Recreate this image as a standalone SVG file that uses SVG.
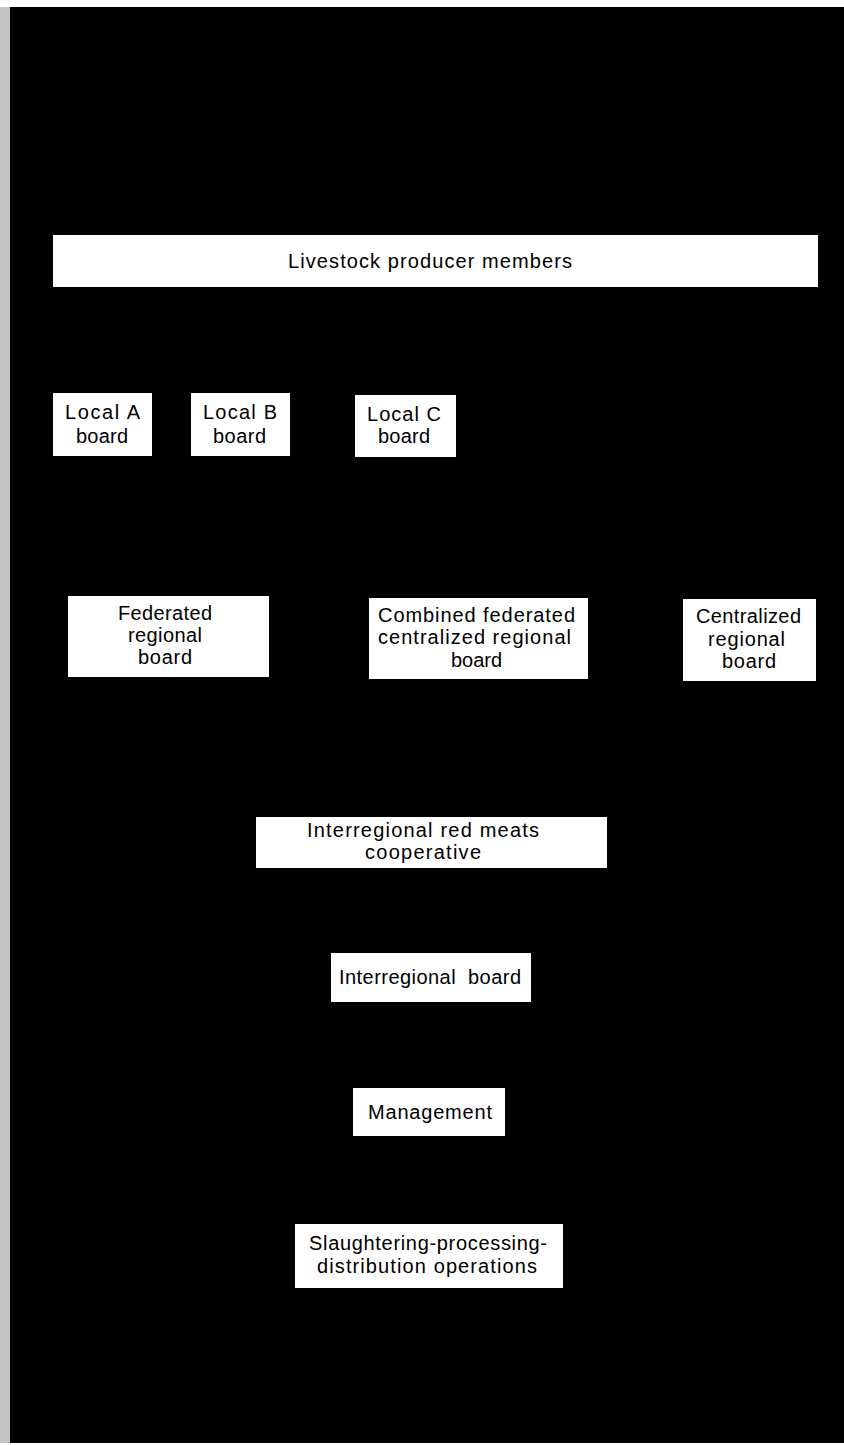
<svg xmlns="http://www.w3.org/2000/svg" width="844" height="1445" viewBox="0 0 844 1445">
<style>
.box{fill:#ffffff;stroke:none}
.lbl{font-family:"Liberation Sans",Arial,Helvetica,sans-serif;font-size:20px;fill:#000000;white-space:pre}
</style>
<rect x="0" y="0" width="844" height="1445" fill="#ffffff"/>
<rect x="0" y="7" width="11" height="1436" fill="#c4c4c4"/>
<rect x="10" y="7" width="834" height="1436" fill="#000000"/>
<g id="connectors"></g>
<g id="livestock">
<rect class="box" x="53" y="235" width="765" height="52"/>
<text class="lbl" x="288" y="268" textLength="284" lengthAdjust="spacing">Livestock producer members</text>
</g>
<g id="localA">
<rect class="box" x="53" y="393" width="99" height="63"/>
<text class="lbl" x="65" y="419" textLength="75" lengthAdjust="spacing">Local A</text>
<text class="lbl" x="76" y="443" textLength="52" lengthAdjust="spacing">board</text>
</g>
<g id="localB">
<rect class="box" x="191" y="393" width="99" height="63"/>
<text class="lbl" x="203" y="419" textLength="74" lengthAdjust="spacing">Local B</text>
<text class="lbl" x="213" y="443" textLength="53" lengthAdjust="spacing">board</text>
</g>
<g id="localC">
<rect class="box" x="355" y="395" width="101" height="62"/>
<text class="lbl" x="367" y="421" textLength="74" lengthAdjust="spacing">Local C</text>
<text class="lbl" x="378" y="443" textLength="52" lengthAdjust="spacing">board</text>
</g>
<g id="federated">
<rect class="box" x="68" y="596" width="201" height="81"/>
<text class="lbl" x="118" y="620" textLength="94" lengthAdjust="spacing">Federated</text>
<text class="lbl" x="128" y="642" textLength="74" lengthAdjust="spacing">regional</text>
<text class="lbl" x="138" y="664" textLength="54" lengthAdjust="spacing">board</text>
</g>
<g id="combined">
<rect class="box" x="369" y="598" width="219" height="81"/>
<text class="lbl" x="378" y="622" textLength="197" lengthAdjust="spacing">Combined federated</text>
<text class="lbl" x="378" y="644" textLength="193" lengthAdjust="spacing">centralized regional</text>
<text class="lbl" x="451" y="667" textLength="51" lengthAdjust="spacing">board</text>
</g>
<g id="centralized">
<rect class="box" x="683" y="599" width="133" height="82"/>
<text class="lbl" x="696" y="623" textLength="105" lengthAdjust="spacing">Centralized</text>
<text class="lbl" x="708" y="646" textLength="77" lengthAdjust="spacing">regional</text>
<text class="lbl" x="722" y="668" textLength="54" lengthAdjust="spacing">board</text>
</g>
<g id="interregional-coop">
<rect class="box" x="256" y="817" width="351" height="51"/>
<text class="lbl" x="307" y="837" textLength="232" lengthAdjust="spacing">Interregional red meats</text>
<text class="lbl" x="365" y="859" textLength="116" lengthAdjust="spacing">cooperative</text>
</g>
<g id="interregional-board">
<rect class="box" x="331" y="953" width="200" height="49"/>
<text class="lbl" x="339" y="984" textLength="182" lengthAdjust="spacing">Interregional  board</text>
</g>
<g id="management">
<rect class="box" x="353" y="1088" width="152" height="48"/>
<text class="lbl" x="368" y="1119" textLength="124" lengthAdjust="spacing">Management</text>
</g>
<g id="operations">
<rect class="box" x="295" y="1224" width="268" height="64"/>
<text class="lbl" x="309" y="1250" textLength="238" lengthAdjust="spacing">Slaughtering-processing-</text>
<text class="lbl" x="317" y="1273" textLength="220" lengthAdjust="spacing">distribution operations</text>
</g>
</svg>
